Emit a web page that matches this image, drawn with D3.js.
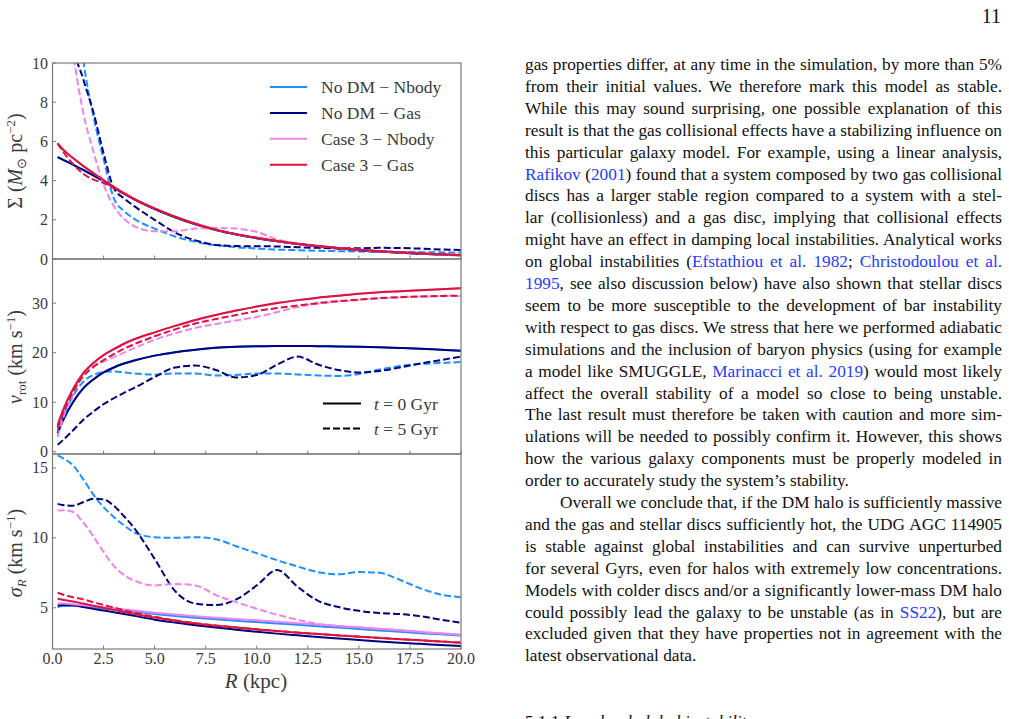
<!DOCTYPE html>
<html>
<head>
<meta charset="utf-8">
<script src="https://cdn.jsdelivr.net/npm/d3@7"></script>
<style>
  body { margin: 0; background: #fff; }
  svg text { font-family: "Liberation Serif", "Times New Roman", serif; }
</style>
</head>
<body>
<script>
var radius = [0.25, 0.5, 1, 1.5, 2, 2.5, 3, 3.5, 4, 5, 6, 7, 8, 9, 10, 11, 12, 13, 14, 15, 16, 17, 18, 19, 20];

// surface density (Msun pc^-2)
var sdNoDmT0   = [5.2, 5.07, 4.82, 4.55, 4.27, 3.97, 3.65, 3.33, 3.04, 2.55, 2.13, 1.77, 1.48, 1.25, 1.06, 0.9, 0.76, 0.64, 0.54, 0.45, 0.38, 0.32, 0.27, 0.23, 0.19];
var sdCase3T0  = [5.9, 5.6, 5.15, 4.75, 4.38, 4.03, 3.68, 3.36, 3.07, 2.58, 2.16, 1.8, 1.5, 1.27, 1.08, 0.92, 0.78, 0.66, 0.56, 0.47, 0.4, 0.34, 0.29, 0.24, 0.2];
var sdNoDmNbodyT5 = [30, 24, 15, 10.2, 7.3, 5.1, 3.1, 2.45, 2.05, 1.55, 1.15, 0.88, 0.7, 0.6, 0.53, 0.48, 0.45, 0.42, 0.4, 0.38, 0.37, 0.36, 0.35, 0.34, 0.33];
var sdNoDmGasT5   = [30, 22, 11.2, 9.2, 7.5, 5.4, 3.62, 3.1, 2.7, 2.0, 1.35, 0.95, 0.72, 0.66, 0.65, 0.64, 0.6, 0.57, 0.55, 0.55, 0.57, 0.56, 0.53, 0.49, 0.46];
var sdCase3NbodyT5 = [25, 17, 10.8, 7.5, 5.5, 3.8, 2.7, 2.05, 1.68, 1.42, 1.42, 1.55, 1.58, 1.55, 1.38, 1.0, 0.78, 0.66, 0.56, 0.47, 0.4, 0.34, 0.29, 0.24, 0.2];
var sdCase3GasT5   = [5.9, 5.5, 4.85, 4.35, 4.05, 3.88, 3.62, 3.33, 3.05, 2.57, 2.15, 1.79, 1.5, 1.27, 1.08, 0.92, 0.78, 0.66, 0.56, 0.47, 0.4, 0.34, 0.29, 0.24, 0.2];

// rotation velocity (km/s)
var vNoDmT0   = [3.7, 6.2, 10.0, 12.8, 14.6, 16.0, 17.0, 17.8, 18.4, 19.4, 20.1, 20.6, 21.0, 21.2, 21.3, 21.35, 21.35, 21.3, 21.25, 21.2, 21.1, 20.95, 20.8, 20.6, 20.4];
var vCase3T0  = [5.3, 8.2, 12.6, 15.8, 17.9, 19.5, 20.7, 21.8, 22.7, 24.1, 25.4, 26.6, 27.6, 28.5, 29.3, 30.0, 30.6, 31.1, 31.5, 31.9, 32.2, 32.4, 32.6, 32.8, 33.0];
var vNoDmNbodyT5 = [4.2, 7.0, 11.2, 14.1, 15.5, 16.1, 16.2, 16.0, 15.8, 15.6, 15.8, 15.8, 15.4, 15.5, 15.8, 15.8, 15.6, 15.4, 15.3, 15.7, 16.6, 17.3, 17.7, 17.9, 18.1];
var vNoDmGasT5   = [1.4, 2.3, 4.3, 6.4, 8.1, 9.6, 10.8, 11.9, 12.9, 15.1, 17.0, 17.4, 16.5, 15.0, 15.5, 17.6, 19.2, 17.6, 16.5, 16.0, 16.3, 17.0, 17.8, 18.5, 19.2];
var vCase3NbodyT5 = [3.0, 6.5, 11.5, 15.8, 17.4, 18.2, 19.1, 20.0, 20.9, 22.6, 23.9, 25.0, 25.8, 26.5, 27.2, 28.2, 29.2, 29.9, 30.3, 30.65, 30.95, 31.15, 31.3, 31.4, 31.45];
var vCase3GasT5   = [4.8, 7.6, 12.0, 15.2, 17.1, 18.5, 19.7, 20.8, 21.7, 23.3, 24.7, 25.9, 26.8, 27.6, 28.4, 29.0, 29.5, 30.0, 30.4, 30.7, 31.0, 31.2, 31.35, 31.45, 31.5];

// radial velocity dispersion (km/s)
var sNoDmNbodyT0 = [5.05, 5.12, 5.15, 5.1, 5.02, 4.95, 4.88, 4.8, 4.72, 4.56, 4.41, 4.28, 4.17, 4.07, 3.98, 3.88, 3.78, 3.68, 3.58, 3.48, 3.38, 3.28, 3.18, 3.1, 3.02];
var sNoDmGasT0   = [5.17, 5.2, 5.18, 5.05, 4.92, 4.8, 4.68, 4.55, 4.42, 4.15, 3.94, 3.75, 3.58, 3.43, 3.28, 3.15, 3.03, 2.91, 2.8, 2.69, 2.59, 2.5, 2.42, 2.34, 2.26];
var sCase3NbodyT0 = [5.3, 5.3, 5.25, 5.18, 5.1, 5.02, 4.95, 4.88, 4.8, 4.65, 4.52, 4.4, 4.29, 4.19, 4.1, 4.0, 3.9, 3.8, 3.7, 3.6, 3.5, 3.39, 3.28, 3.17, 3.07];
var sCase3GasT0   = [5.64, 5.58, 5.45, 5.3, 5.15, 5.0, 4.85, 4.7, 4.56, 4.3, 4.08, 3.88, 3.72, 3.58, 3.45, 3.33, 3.22, 3.12, 3.02, 2.93, 2.84, 2.75, 2.67, 2.58, 2.5];
var sNoDmNbodyT5 = [15.9, 15.7, 15.2, 14.2, 13.1, 12.2, 11.5, 10.9, 10.4, 10.05, 10.0, 10.05, 9.9, 9.4, 8.9, 8.4, 7.95, 7.55, 7.4, 7.55, 7.5, 7.0, 6.4, 5.95, 5.75];
var sNoDmGasT5   = [12.43, 12.35, 12.3, 12.55, 12.8, 12.75, 12.3, 11.55, 10.7, 8.5, 6.2, 5.3, 5.2, 5.6, 6.6, 7.7, 6.5, 5.5, 5.05, 4.78, 4.62, 4.55, 4.4, 4.15, 3.93];
var sCase3NbodyT5 = [11.96, 11.98, 11.85, 11.12, 10.1, 9.0, 8.0, 7.35, 6.95, 6.6, 6.7, 6.6, 5.9, 5.4, 4.93, 4.5, 4.15, 3.85, 3.7, 3.6, 3.5, 3.4, 3.28, 3.17, 3.07];
var sCase3GasT5   = [6.07, 5.95, 5.75, 5.6, 5.4, 5.2, 5.02, 4.83, 4.65, 4.35, 4.1, 3.9, 3.73, 3.59, 3.46, 3.34, 3.23, 3.13, 3.03, 2.94, 2.85, 2.76, 2.68, 2.59, 2.51];

var modelNames = ["No DM \u2212 Nbody", "No DM \u2212 Gas", "Case 3 \u2212 Nbody", "Case 3 \u2212 Gas"];
var modelColors = ["#1e90ff", "#000080", "#ee82ee", "#dc143c"];
var timeNames = ["0", "5"];

var xTicks = [0, 2.5, 5, 7.5, 10, 12.5, 15, 17.5, 20];
var sdTicks = [0, 2, 4, 6, 8, 10];
var vTicks = [0, 10, 20, 30];
var sTicks = [5, 10, 15];

// page text on the right
var bodyLines = [
  "gas properties differ, at any time in the simulation, by more than 5%",
  "from their initial values. We therefore mark this model as stable.",
  "While this may sound surprising, one possible explanation of this",
  "result is that the gas collisional effects have a stabilizing influence on",
  "this particular galaxy model. For example, using a linear analysis,",
  "[Rafikov] ([2001]) found that a system composed by two gas collisional",
  "discs has a larger stable region compared to a system with a stel-",
  "lar (collisionless) and a gas disc, implying that collisional effects",
  "might have an effect in damping local instabilities. Analytical works",
  "on global instabilities ([Efstathiou et al. 1982]; [Christodoulou et al.]",
  "[1995], see also discussion below) have also shown that stellar discs",
  "seem to be more susceptible to the development of bar instability",
  "with respect to gas discs. We stress that here we performed adiabatic",
  "simulations and the inclusion of baryon physics (using for example",
  "a model like SMUGGLE, [Marinacci et al. 2019]) would most likely",
  "affect the overall stability of a model so close to being unstable.",
  "The last result must therefore be taken with caution and more sim-",
  "ulations will be needed to possibly confirm it. However, this shows",
  "how the various galaxy components must be properly modeled in",
  "order to accurately study the system\u2019s stability.",
  "Overall we conclude that, if the DM halo is sufficiently massive",
  "and the gas and stellar discs sufficiently hot, the UDG AGC 114905",
  "is stable against global instabilities and can survive unperturbed",
  "for several Gyrs, even for halos with extremely low concentrations.",
  "Models with colder discs and/or a significantly lower-mass DM halo",
  "could possibly lead the galaxy to be unstable (as in [SS22]), but are",
  "excluded given that they have properties not in agreement with the",
  "latest observational data."
];
var indentLines = [20];
var raggedLines = [19, 27];

var svg = d3.select("body").append("svg")
  .attr("width", 1009)
  .attr("height", 719);

var frameColor = "#7a7a7a";
var labelColor = "#3a3a3a";

var x = d3.scaleLinear().domain([0, 20]).range([52.5, 461]);

var panels = [
  {
    y: d3.scaleLinear().domain([0, 10]).range([259, 63]),
    ticks: sdTicks,
    series: [
      [sdNoDmT0, 0, 0], [sdNoDmNbodyT5, 0, 1],
      [sdNoDmT0, 1, 0], [sdNoDmGasT5, 1, 1],
      [sdCase3T0, 2, 0], [sdCase3NbodyT5, 2, 1],
      [sdCase3T0, 3, 0], [sdCase3GasT5, 3, 1]
    ]
  },
  {
    y: d3.scaleLinear().domain([-0.45, 38.9]).range([454, 259]),
    ticks: vTicks,
    series: [
      [vNoDmT0, 0, 0], [vNoDmNbodyT5, 0, 1],
      [vNoDmT0, 1, 0], [vNoDmGasT5, 1, 1],
      [vCase3T0, 2, 0], [vCase3NbodyT5, 2, 1],
      [vCase3T0, 3, 0], [vCase3GasT5, 3, 1]
    ]
  },
  {
    y: d3.scaleLinear().domain([2.05, 16]).range([649, 454]),
    ticks: sTicks,
    series: [
      [sNoDmNbodyT0, 0, 0], [sNoDmNbodyT5, 0, 1],
      [sNoDmGasT0, 1, 0], [sNoDmGasT5, 1, 1],
      [sCase3NbodyT0, 2, 0], [sCase3NbodyT5, 2, 1],
      [sCase3GasT0, 3, 0], [sCase3GasT5, 3, 1]
    ]
  }
];

panels.forEach(function(p, k) {
  var y = p.y;
  var top = y.range()[1], bottom = y.range()[0];

  svg.append("clipPath").attr("id", "clip" + k)
    .append("rect")
    .attr("x", x(0)).attr("y", top)
    .attr("width", x(20) - x(0)).attr("height", bottom - top);

  var g = svg.append("g").attr("clip-path", "url(#clip" + k + ")");

  var line = d3.line()
    .x(function(d, i) { return x(radius[i]); })
    .y(function(d) { return y(d); })
    .curve(d3.curveMonotoneX);

  p.series.forEach(function(s) {
    g.append("path")
      .attr("d", line(s[0]))
      .attr("fill", "none")
      .attr("stroke", modelColors[s[1]])
      .attr("stroke-width", 2)
      .attr("stroke-dasharray", s[2] ? "7,3" : null);
  });

  // frame
  svg.append("rect")
    .attr("x", x(0)).attr("y", top)
    .attr("width", x(20) - x(0)).attr("height", bottom - top)
    .attr("fill", "none")
    .attr("stroke", frameColor)
    .attr("stroke-width", 1.2);

  // inward ticks
  xTicks.forEach(function(t) {
    svg.append("line")
      .attr("x1", x(t)).attr("x2", x(t))
      .attr("y1", bottom).attr("y2", bottom - 3.5)
      .attr("stroke", frameColor);
  });
  p.ticks.forEach(function(t) {
    svg.append("line")
      .attr("x1", x(0)).attr("x2", x(0) + 3.5)
      .attr("y1", y(t)).attr("y2", y(t))
      .attr("stroke", frameColor);
    svg.append("text")
      .attr("x", 48).attr("y", y(t) + 5.5)
      .attr("text-anchor", "end")
      .style("font-size", "16px")
      .attr("fill", labelColor)
      .text(t);
  });
});

// x tick labels on the last panel
xTicks.forEach(function(t) {
  svg.append("text")
    .attr("x", x(t)).attr("y", 664)
    .attr("text-anchor", "middle")
    .style("font-size", "16px")
    .attr("fill", labelColor)
    .text(t.toFixed(1));
});

// axis titles
function yTitle(cx, cy, parts) {
  var t = svg.append("text")
    .attr("transform", "translate(" + cx + "," + cy + ") rotate(-90)")
    .attr("text-anchor", "middle")
    .style("font-size", "20px")
    .attr("fill", labelColor);
  parts.forEach(function(p) {
    var ts = t.append("tspan").text(p.t);
    if (p.i) ts.style("font-style", "italic");
    if (p.s) ts.style("font-size", p.s + "px");
    if (p.dy) ts.attr("dy", p.dy);
  });
}
yTitle(22, 161, [
  {t: "\u03a3 ("}, {t: "M", i: 1}, {t: "\u2299", s: 13, dy: 4},
  {t: " pc", dy: -4}, {t: "\u22122", s: 13, dy: -7}, {t: ")", dy: 7}
]);
yTitle(22, 357, [
  {t: "v", i: 1}, {t: "rot", s: 13, dy: 4},
  {t: " (km s", dy: -4}, {t: "\u22121", s: 13, dy: -7}, {t: ")", dy: 7}
]);
yTitle(22, 553, [
  {t: "\u03c3", i: 1}, {t: "R", i: 1, s: 13, dy: 4},
  {t: " (km s", dy: -4}, {t: "\u22121", s: 13, dy: -7}, {t: ")", dy: 7}
]);

var xt = svg.append("text")
  .attr("x", 256).attr("y", 688)
  .attr("text-anchor", "middle")
  .style("font-size", "21px")
  .attr("fill", labelColor);
xt.append("tspan").style("font-style", "italic").text("R");
xt.append("tspan").text(" (kpc)");

// model legend
modelNames.forEach(function(name, i) {
  var yy = 87 + i * 25.9;
  svg.append("line")
    .attr("x1", 270).attr("x2", 307)
    .attr("y1", yy).attr("y2", yy)
    .attr("stroke", modelColors[i])
    .attr("stroke-width", 2);
  svg.append("text")
    .attr("x", 321).attr("y", yy + 6)
    .style("font-size", "17.5px")
    .attr("fill", labelColor)
    .text(name);
});

// time legend
timeNames.forEach(function(tn, i) {
  var yy = 403.5 + i * 25;
  svg.append("line")
    .attr("x1", 323).attr("x2", 361)
    .attr("y1", yy).attr("y2", yy)
    .attr("stroke", "#000")
    .attr("stroke-width", 2)
    .attr("stroke-dasharray", i ? "7,3" : null);
  var t = svg.append("text")
    .attr("x", 374).attr("y", yy + 6)
    .style("font-size", "17.5px")
    .attr("fill", labelColor);
  t.append("tspan").style("font-style", "italic").text("t");
  t.append("tspan").text(" = " + tn + " Gyr");
});

// page number
svg.append("text")
  .attr("x", 1001).attr("y", 23)
  .attr("text-anchor", "end")
  .style("font-size", "20px")
  .attr("fill", "#111")
  .text("11");

// body text, justified by word spacing
var colLeft = 525, colRight = 1002;
bodyLines.forEach(function(line, i) {
  var x0 = indentLines.indexOf(i) >= 0 ? 560 : colLeft;
  var t = svg.append("text")
    .attr("x", x0)
    .attr("y", 70 + i * 21.9)
    .style("font-size", "17.3px")
    .attr("fill", "#111");
  line.split(/(\[[^\]]*\])/).forEach(function(part) {
    if (!part) return;
    var link = part[0] === "[";
    t.append("tspan")
      .attr("fill", link ? "#1f3cff" : "#111")
      .text(link ? part.slice(1, -1) : part);
  });
  if (raggedLines.indexOf(i) < 0) {
    var w = t.node().getComputedTextLength();
    var gaps = (line.match(/ /g) || []).length;
    t.style("word-spacing", ((colRight - x0 - w) / gaps) + "px");
  }
});

var h = svg.append("text")
  .attr("x", colLeft).attr("y", 727)
  .style("font-size", "17.3px")
  .attr("fill", "#111");
h.append("tspan").text("5.1.1   ");
h.append("tspan").style("font-style", "italic").text("Low-level global instability");
</script>
</body>
</html>
